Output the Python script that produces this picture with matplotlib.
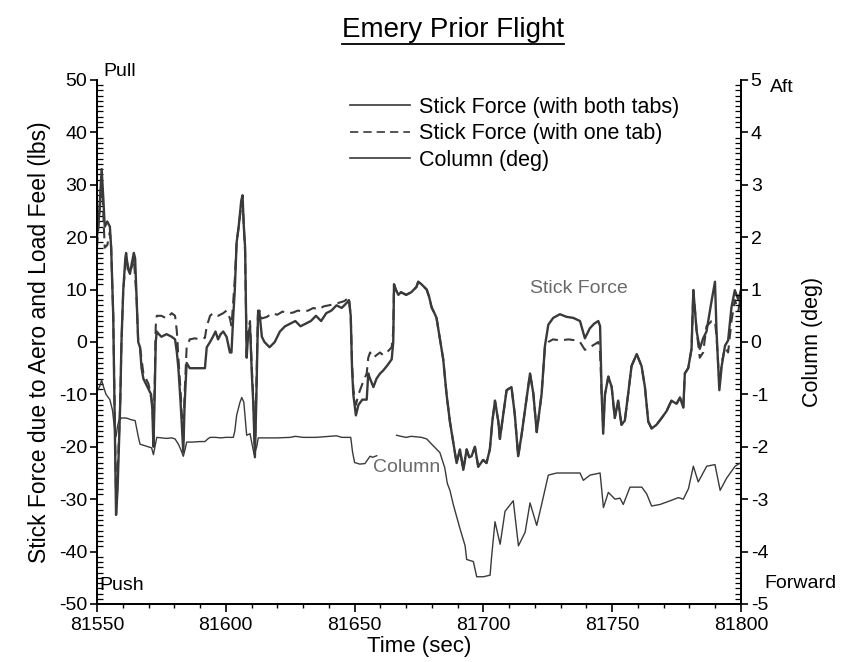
import numpy as np
import matplotlib
matplotlib.use("Agg")
import matplotlib.pyplot as plt
from matplotlib.ticker import MultipleLocator

plt.rcParams['font.family'] = ['Liberation Sans', 'DejaVu Sans']

# ---- data ----
t_both = [81550, 81550.8, 81551.8, 81552.5, 81553, 81554, 81555, 81555.5, 81556.3, 81557.4,
          81558, 81558.5, 81559, 81559.5, 81560.2, 81561, 81561.3, 81562, 81562.8, 81563.5,
          81564.3, 81564.8, 81565.4, 81566, 81566.7, 81567.3, 81568, 81569, 81570, 81571,
          81571.5, 81571.9, 81572.4, 81572.8, 81573.2, 81574, 81575, 81577, 81579, 81580.3,
          81581, 81581.6, 81582.5, 81583.5, 81584, 81584.8, 81586, 81588, 81590, 81591.9,
          81592.6, 81593.9, 81595, 81596, 81597, 81598, 81599, 81600.3, 81601.6, 81602.2,
          81602.9, 81603.5, 81604.2, 81605, 81606, 81606.5, 81607, 81607.5, 81608.1, 81608.6,
          81609.4, 81610.1, 81610.7, 81611.3, 81611.8, 81612.5, 81613, 81614, 81615, 81617,
          81619, 81621, 81623, 81625, 81627, 81629, 81631, 81633, 81635, 81637,
          81639, 81641, 81643, 81645, 81647, 81647.8, 81648.5, 81649, 81649.5, 81650.5,
          81651.5, 81653, 81654.7, 81655.3, 81656, 81657.3, 81658.5, 81659.9, 81661, 81662.5,
          81664.4, 81665, 81665.3, 81666, 81667, 81668, 81670, 81672, 81674, 81674.7,
          81676, 81678, 81679, 81679.9, 81681, 81681.8, 81683.1, 81684.4, 81685.7, 81687,
          81688.3, 81689.6, 81690.9, 81692.2, 81693.5, 81694.5, 81695.4, 81696.7, 81698, 81699.9,
          81701.2, 81702.5, 81703.5, 81704.5, 81705.8, 81706.4, 81707.7, 81709, 81710.9, 81712.2,
          81713.5, 81714.8, 81716.1, 81718.1, 81719.4, 81720.7, 81722.6, 81723.9, 81725.2, 81727.1,
          81729.7, 81732.3, 81734.9, 81737.5, 81739.4, 81741.3, 81743, 81744.6, 81745.3, 81745.9,
          81746.5, 81747.2, 81748.5, 81749.8, 81751, 81752.3, 81753.6, 81754.9, 81756.2, 81757.5,
          81759.5, 81761.4, 81762.7, 81764, 81765.3, 81767.2, 81769.2, 81771.1, 81773, 81775,
          81776.3, 81777.6, 81778.2, 81779.5, 81780.8, 81781.5, 81782.8, 81784, 81785.3, 81786.6,
          81788.6, 81789.9, 81790.5, 81791.6, 81792.5, 81793.8, 81795, 81796.3, 81797.6, 81799,
          81800]
f_both = [20, 24, 33, 27, 22, 23, 22, 18, 5, -33,
          -28, -20, -12, 0, 10, 16, 17, 14, 13, 15,
          17, 16, 8, 0, -1, -5, -7, -8, -9, -10,
          -13, -20, -10, 0, 2, 1.5, 1, 1.5, 1, 0.5,
          -2, -5, -12, -21, -12, -4, -5, -5, -5, -5,
          -1, 0, 1, 2, 0.5, 1.5, 2, 1, -2, -2,
          5, 10, 19, 22, 27, 28, 22, 18, -3, 1,
          3, -6, -12, -22, -12, 5, 6, 1, 0, -1,
          0, 2, 3, 3.5, 4, 3, 3.5, 4, 5, 4,
          5.5, 6, 7, 6.5, 7.5, 8, 5, -5, -10, -14,
          -12, -11, -11, -6, -7, -8.6, -7, -6, -5.5, -4.6,
          -3.3, 0, 11, 10, 9, 9.5, 9, 9.5, 10.5, 11.5,
          11, 10, 8.5, 6.6, 5.5, 4.6, 0.7, -3.3, -10, -15.2,
          -19.1, -23.1, -20.5, -24.4, -20.5, -22, -21.8, -20, -23.8, -22.5,
          -23.1, -20.5, -15, -11.2, -15.2, -18.5, -13.9, -9.2, -8.6, -13.9,
          -21.8, -17.8, -13.2, -6, -9.9, -17.2, -9.9, -0.7, 3.3, 4.6,
          5.3, 4.8, 4.6, 4, 0.7, 2.6, 3.5, 4, 3, -9.9,
          -17.5, -10, -6.6, -8.6, -14.5, -11.2, -15.8, -15, -9.9, -4.6,
          -2.3, -4.6, -8.6, -15.2, -16.5, -15.8, -14.5, -13.2, -11.2, -11.8,
          -10.6, -12.5, -6, -5, -1.3, 9.9, 2, -1.3, 0.7, 2,
          7.9, 11.5, 2, -9.2, -4.6, -0.7, 0.3, 6.6, 9.9, 8,
          10]

t_one = [81550, 81551, 81551.8, 81552.5, 81553, 81554, 81555, 81555.5, 81556.3, 81557.4,
         81558, 81559, 81559.5, 81560.2, 81561.3, 81562.8, 81564.3, 81565.4, 81566, 81566.7,
         81568, 81570, 81571.5, 81571.9, 81572.4, 81572.8, 81573.2, 81575, 81577, 81579,
         81580.3, 81581, 81581.6, 81582.5, 81583.5, 81584, 81584.8, 81586, 81588, 81590,
         81591.9, 81592.6, 81593.9, 81595, 81597, 81599, 81600.3, 81601.6, 81602.2, 81602.9,
         81603.5, 81604.2, 81605, 81606, 81606.5, 81607, 81607.5, 81608.1, 81608.6, 81609.4,
         81610.1, 81610.7, 81611.3, 81611.8, 81612.5, 81613, 81614, 81616, 81618, 81620,
         81622, 81624, 81626, 81628, 81630, 81632, 81634, 81636, 81638, 81640,
         81642, 81644, 81646, 81647.8, 81648.5, 81649, 81649.5, 81650.5, 81651.5, 81653,
         81654.7, 81655.3, 81656, 81657.3, 81658.5, 81659.9, 81661, 81662.5, 81664.4, 81665,
         81665.3, 81666, 81667, 81668, 81670, 81672, 81674, 81674.7, 81676, 81678,
         81679, 81679.9, 81681, 81681.8, 81683.1, 81684.4, 81685.7, 81687, 81688.3, 81689.6,
         81690.9, 81692.2, 81693.5, 81694.5, 81695.4, 81696.7, 81698, 81699.9, 81701.2, 81702.5,
         81703.5, 81704.5, 81705.8, 81706.4, 81707.7, 81709, 81710.9, 81712.2, 81713.5, 81714.8,
         81716.1, 81718.1, 81719.4, 81720.7, 81722.6, 81723.9, 81725.2, 81727, 81730, 81733,
         81736, 81737.5, 81739.4, 81741.3, 81743, 81744.6, 81745.3, 81745.9, 81746.5, 81747.2,
         81748.5, 81749.8, 81751, 81752.3, 81753.6, 81754.9, 81756.2, 81757.5, 81759.5, 81761.4,
         81762.7, 81764, 81765.3, 81767.2, 81769.2, 81771.1, 81773, 81775, 81776.3, 81777.6,
         81778.2, 81779.5, 81780.8, 81781.5, 81782.8, 81784, 81785.3, 81786.6, 81788.6, 81789.9,
         81790.5, 81791.6, 81792.5, 81793.8, 81795, 81796.3, 81797.6, 81799, 81800]
f_one = [18, 25, 31, 24, 18, 18.5, 21, 18, 5, -30,
         -25, -12, 0, 10, 16, 13, 16, 8, 0, -1,
         -6, -8, -12, -17, -8, 3, 5, 5, 4.5, 5.5,
         5, 2, -3, -10, -19, -10, -1, 0.5, 0.7, 0.5,
         0.8, 3, 5, 5.5, 5, 5.5, 6, 4.5, 3, 8,
         12, 19, 22, 26, 27, 22, 17, -2, 2, 4,
         -5, -11, -21, -10, 6, 5, 4.5, 4.8, 5.5, 5.2,
         5.8, 5.5, 5.6, 6, 5.8, 6, 6.5, 6.2, 6.8, 7,
         7.2, 7.5, 7.8, 8.5, 5, -4, -9, -12, -10, -8,
         -6, -3, -2, -3, -2.5, -2, -2.5, -2, -1, 2,
         11, 10, 9, 9.5, 9, 9.5, 10.5, 11.5, 11, 10,
         8.5, 6.6, 5.5, 4.6, 0.7, -3.3, -10, -15.2, -19.1, -23.1,
         -20.5, -24.4, -20.5, -22, -21.8, -20, -23.8, -22.5, -23.1, -20.5,
         -15, -11.2, -15.2, -18.5, -13.9, -9.2, -8.6, -13.9, -21.8, -17.8,
         -13.2, -6, -9.9, -17.2, -9.9, -0.7, 0, 0.5, 0.3, 0.5,
         0.3, 0, -1.5, -1, -0.5, 0, -2, -9.9, -16, -10,
         -6.6, -8.6, -14.5, -11.2, -15.8, -15, -9.9, -4.6, -2.3, -4.6,
         -8.6, -15.2, -16.5, -15.8, -14.5, -13.2, -11.2, -11.8, -10.6, -12.5,
         -6, -5, -1.3, 9.9, 2, -3, -2, 3, 4, 4,
         1, -8, -4, -1, -2, 4, 8, 6, 9]

t_col = [81550, 81551, 81551.8, 81552.5, 81553.5, 81555, 81556, 81556.8, 81557.4, 81558,
         81558.5, 81559.5, 81561, 81562, 81563, 81564.8, 81566, 81566.7, 81568, 81570,
         81571.2, 81571.9, 81572.5, 81573.2, 81575, 81577, 81579, 81580.3, 81581.6, 81582.5,
         81583.5, 81584.2, 81584.8, 81587, 81590, 81591.9, 81593, 81593.9, 81596, 81598,
         81600, 81602.9, 81603.5, 81604.2, 81605.5, 81606.2, 81607, 81608.1, 81609.4, 81610,
         81611, 81612, 81612.6, 81615, 81620, 81625, 81627, 81630, 81635, 81640,
         81643, 81645, 81648.5, 81649.2, 81650, 81652, 81654, 81655, 81656, 81657,
         81658.6, 81662,
         81666.3, 81668, 81670, 81672, 81674, 81676, 81678, 81680.5, 81683.1, 81685,
         81686, 81687, 81688.3, 81690.9, 81692.9, 81693.5, 81696.1, 81697.4, 81700, 81702.6,
         81703.2, 81704.5, 81706.5, 81708.4, 81711.6, 81713.6, 81716.2, 81718.1, 81720.7, 81722.6,
         81725.2, 81728.5, 81733, 81737.5, 81738.8, 81741.4, 81745.3, 81746.6, 81748.5, 81751.1,
         81753, 81754.3, 81756.9, 81761.5, 81763.4, 81765.3, 81768.6, 81772.5, 81775.7, 81777.6,
         81779.6, 81781.5, 81783.4, 81786.7, 81789.9, 81791.9, 81794.4, 81797.7, 81800]
col_deg = [-0.95, -0.85, -0.73, -0.85, -1.0, -1.1, -1.3, -1.65, -1.8, -1.6,
           -1.5, -1.45, -1.45, -1.46, -1.48, -1.5, -1.8, -1.95, -1.97, -2.0,
           -2.02, -2.15, -2.0, -1.82, -1.83, -1.84, -1.83, -1.85, -1.95, -2.05,
           -2.18, -2.05, -1.91, -1.91, -1.9, -1.9, -1.85, -1.82, -1.82, -1.83,
           -1.82, -1.82, -1.7, -1.4, -1.15, -1.06, -1.15, -1.78, -1.75, -1.9,
           -2.15, -2.0, -1.83, -1.83, -1.83, -1.82, -1.8, -1.82, -1.82, -1.8,
           -1.79, -1.82, -1.82, -2.1, -2.3, -2.33, -2.32, -2.25, -2.18, -2.2,
           -2.17, None,
           -1.78, -1.8, -1.82, -1.8, -1.81, -1.82, -1.85, -1.98, -2.11, -2.4,
           -2.7, -2.83, -3.1, -3.56, -3.89, -4.15, -4.19, -4.48, -4.48, -4.45,
           -4.09, -3.43, -3.86, -3.23, -3.03, -3.89, -3.63, -3.07, -3.5, -3.1,
           -2.54, -2.5, -2.5, -2.5, -2.64, -2.54, -2.5, -3.16, -2.87, -3.0,
           -2.98, -3.1, -2.77, -2.77, -2.9, -3.13, -3.1, -3.03, -2.97, -3.0,
           -2.8, -2.37, -2.67, -2.37, -2.34, -2.83, -2.6, -2.37, -2.3]

x_ticks = [81550, 81600, 81650, 81700, 81750, 81800]
left_ticks = [-50, -40, -30, -20, -10, 0, 10, 20, 30, 40, 50]
right_ticks = [-5, -4, -3, -2, -1, 0, 1, 2, 3, 4, 5]

# ---- figure ----
W, H = 849, 662
fig = plt.figure(figsize=(W / 100, H / 100), dpi=100)
L, R, T, B = 97, 741, 80, 604
ax = fig.add_axes([L / W, 1 - B / H, (R - L) / W, (B - T) / H])
ax2 = ax.twinx()

line_col = '#3a3a3a'
ax.plot(t_both, f_both, color=line_col, lw=1.7, label='Stick Force (with both tabs)')
ax.plot(t_one, f_one, color=line_col, lw=1.5, ls=(0, (5, 3)), label='Stick Force (with one tab)')
col_arr = np.array([np.nan if v is None else v for v in col_deg], dtype=float)
ax2.plot(t_col, col_arr, color=line_col, lw=1.0, label='Column (deg)')

ax.set_xlim(81550, 81800)
ax.set_ylim(-50, 50)
ax2.set_ylim(-5, 5)

for a in (ax, ax2):
    a.spines['top'].set_visible(False)
    for s in a.spines.values():
        s.set_linewidth(1.3)

ax.set_xticks(x_ticks)
ax.set_xticklabels([str(v) for v in x_ticks])
ax.xaxis.set_minor_locator(MultipleLocator(10))
ax.set_yticks(left_ticks)
ax.set_yticklabels([str(v) for v in left_ticks])
ax.yaxis.set_minor_locator(MultipleLocator(1))
ax2.set_yticks(right_ticks)
ax2.set_yticklabels([str(v) for v in right_ticks])
ax2.yaxis.set_minor_locator(MultipleLocator(0.1))

fs_tick = 14
ax.tick_params(axis='x', which='major', direction='out', length=6, width=1.2, labelsize=fs_tick, pad=3)
ax.tick_params(axis='x', which='minor', direction='out', length=3, width=1.0)
ax.tick_params(axis='y', which='major', direction='out', length=5, width=1.2, labelsize=fs_tick, pad=2)
ax.tick_params(axis='y', which='minor', direction='in', length=4, width=0.9)
ax2.tick_params(axis='y', which='major', direction='out', length=5, width=1.2, labelsize=fs_tick, pad=2)
ax2.tick_params(axis='y', which='minor', direction='in', length=4, width=0.9)

ax.set_xlabel('Time (sec)', fontsize=16, labelpad=2)
ax.set_ylabel('Stick Force due to Aero and Load Feel (lbs)', fontsize=16.5, labelpad=6)
ax2.set_ylabel('Column (deg)', fontsize=15.5, labelpad=24)

# corner labels (figure pixel positions)
def ptext(x, y, s, **kw):
    fig.text(x / W, 1 - y / H, s, fontsize=14, va='center', ha='left', **kw)

ptext(103, 72, 'Pull')
ptext(99, 585, 'Push')
ptext(770, 88, 'Aft')
ptext(764, 584, 'Forward')

# curve labels
ax.text(81718, 10.2, 'Stick Force', fontsize=14, color='#6a6a6a', va='center', ha='left')
ax.text(81657, -24, 'Column', fontsize=14, color='#6a6a6a', va='center', ha='left')

# legend
h1, l1 = ax.get_legend_handles_labels()
h2, l2 = ax2.get_legend_handles_labels()
leg = ax.legend(h1 + h2, l1 + l2, loc='upper left', bbox_to_anchor=(350 / W, 1 - 97 / H),
                bbox_transform=fig.transFigure, frameon=False, fontsize=15.5,
                handlelength=2.8, handletextpad=0.4, labelspacing=0.25, borderpad=0, borderaxespad=0)
for ln in leg.get_lines():
    ln.set_linewidth(1.2)

# title with underline
title = fig.text(453 / W, 1 - 30 / H, 'Emery Prior Flight', fontsize=20, ha='center', va='center')
fig.canvas.draw()
bb = title.get_window_extent().transformed(fig.transFigure.inverted())
fig.add_artist(plt.Line2D([bb.x0, bb.x1], [bb.y0 - 0.002, bb.y0 - 0.002], color='black', lw=1.3,
                          transform=fig.transFigure))

fig.savefig('out.png', dpi=100)
